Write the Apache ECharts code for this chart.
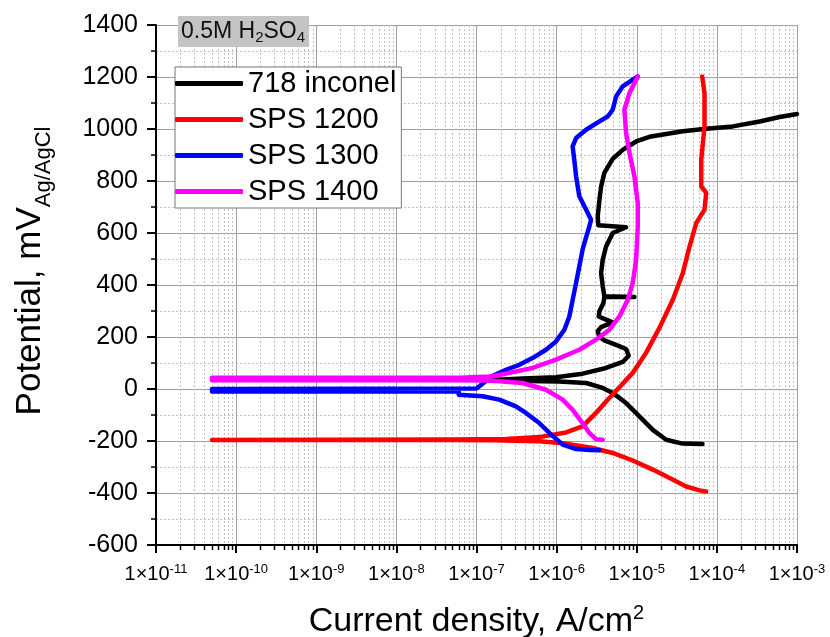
<!DOCTYPE html>
<html>
<head>
<meta charset="utf-8">
<script src="https://cdn.jsdelivr.net/npm/echarts@6/dist/echarts.min.js"></script>
<style>
  html, body { margin: 0; padding: 0; background: #fff; }
  #chart { width: 830px; height: 637px; }
</style>
</head>
<body>
<div id="chart"></div>
<script>
  // 数据: [电流密度 A/cm2, 电位 mV]
  var inconel718 = [
    [6.6e-5, -212], [3.72e-5, -210], [2.33e-5, -195], [1.585e-5, -157], [1.08e-5, -105],
    [7.36e-6, -54], [5.01e-6, -15], [3.76e-6, 4], [2.33e-6, 23], [1.07e-6, 29],
    [4.0e-7, 31], [1.35e-7, 34], [3.76e-7, 40], [9.82e-7, 45], [2.11e-6, 59],
    [4.14e-6, 81], [6.68e-6, 104], [7.94e-6, 128], [7.36e-6, 154], [5.52e-6, 170],
    [3.94e-6, 187], [3.42e-6, 200], [3.26e-6, 222], [3.59e-6, 238], [5.01e-6, 256],
    [4.14e-6, 267], [3.35e-6, 279], [3.42e-6, 299], [3.84e-6, 331], [3.94e-6, 354],
    [9.35e-6, 354], [3.94e-6, 357], [3.76e-6, 395], [3.59e-6, 446], [3.76e-6, 497],
    [4.14e-6, 548], [5.01e-6, 600], [7.36e-6, 622], [3.31e-6, 630], [3.26e-6, 664],
    [3.42e-6, 728], [3.59e-6, 779], [3.94e-6, 831], [5.01e-6, 885], [6.68e-6, 920],
    [9.82e-6, 952], [1.44e-5, 970], [3.76e-5, 991], [7.36e-5, 1001], [1.585e-4, 1010],
    [3.42e-4, 1029], [6.08e-4, 1046], [1.0e-3, 1058]
  ];
  var sps1200 = [
    [7.36e-5, -394], [6.08e-5, -390], [4.14e-5, -375], [2.33e-5, -336], [1.585e-5, -310],
    [8.91e-6, -275], [5.01e-6, -246], [2.82e-6, -227], [1.31e-6, -210], [6.08e-7, -201],
    [1.585e-7, -197], [5.0e-8, -196], [5.0e-11, -196], [5.0e-11, -194], [5.0e-8, -194],
    [2.33e-7, -192], [6.08e-7, -185], [1.31e-6, -167], [2.11e-6, -144], [3.10e-6, -92],
    [4.14e-6, -48], [6.08e-6, 7], [8.91e-6, 62], [1.08e-5, 100], [1.31e-5, 140],
    [1.92e-5, 235], [2.82e-5, 343], [3.76e-5, 446], [4.56e-5, 548], [5.52e-5, 638],
    [7.01e-5, 690], [7.36e-5, 754], [6.38e-5, 779], [6.38e-5, 882], [7.01e-5, 1010],
    [7.01e-5, 1138], [6.56e-5, 1202]
  ];
  var sps1300 = [
    [3.42e-6, -236], [2.6e-6, -235], [1.75e-6, -231], [1.19e-6, -214], [8.11e-7, -169],
    [6.08e-7, -131], [4.14e-7, -92], [3.10e-7, -67], [1.92e-7, -41], [1.19e-7, -28],
    [6.0e-8, -22], [6.0e-8, -10], [5.0e-11, -10], [5.0e-11, 0], [1.0e-7, 2],
    [1.3e-7, 30], [1.7e-7, 55], [2.33e-7, 74], [3.42e-7, 93], [5.01e-7, 119],
    [7.36e-7, 151], [9.82e-7, 183], [1.25e-6, 228], [1.44e-6, 279], [1.585e-6, 343],
    [1.75e-6, 408], [1.92e-6, 472], [2.11e-6, 536], [2.22e-6, 561], [2.56e-6, 625],
    [2.69e-6, 651], [2.33e-6, 690], [1.92e-6, 741], [1.75e-6, 818], [1.66e-6, 882],
    [1.585e-6, 933], [1.75e-6, 965], [2.33e-6, 997], [3.42e-6, 1029], [4.34e-6, 1048],
    [5.01e-6, 1074], [5.52e-6, 1125], [6.68e-6, 1164], [1.03e-5, 1202]
  ];
  var sps1400 = [
    [3.76e-6, -195], [3.10e-6, -193], [2.56e-6, -169], [2.11e-6, -131], [1.585e-6, -80],
    [1.19e-6, -41], [7.36e-7, -3], [3.76e-7, 23], [1.45e-7, 33], [5.0e-8, 34],
    [5.0e-11, 34], [5.0e-11, 43], [6.3e-8, 43], [1.44e-7, 48], [2.33e-7, 59],
    [5.01e-7, 81], [9.82e-7, 113], [1.92e-6, 151], [3.10e-6, 190], [4.56e-6, 228],
    [6.08e-6, 279], [7.73e-6, 343], [8.91e-6, 408], [9.82e-6, 497], [1.03e-5, 625],
    [1.03e-5, 715], [9.35e-6, 818], [8.11e-6, 908], [7.36e-6, 985], [7.01e-6, 1074],
    [8.11e-6, 1138], [1.03e-5, 1202]
  ];

  var seriesNames = ["718 inconel", "SPS 1200", "SPS 1300", "SPS 1400"];
  var seriesColors = ["#000000", "#ff0000", "#0000ff", "#ff00ff"];
  var seriesData = [inconel718, sps1200, sps1300, sps1400];

  // 对数轴次刻度 (2..9 × 10^n)
  var decades = [1e-11, 1e-10, 1e-9, 1e-8, 1e-7, 1e-6, 1e-5, 1e-4];
  var minorSteps = [2, 3, 4, 5, 6, 7, 8, 9];
  var minorTicks = [];
  decades.forEach(function (d) {
    minorSteps.forEach(function (m) {
      minorTicks.push([m * d, -600]);
    });
  });

  var FONT = "Liberation Sans";
  var chart = echarts.init(document.getElementById("chart"));

  var series = [];
  series.push({
    name: "minor",
    type: "custom",
    silent: true,
    clip: false,
    z: 1,
    data: minorTicks,
    renderItem: function (params, api) {
      var v = api.value(0);
      var top = api.coord([v, 1400]);
      var bot = api.coord([v, -600]);
      var x = Math.round(top[0]) + 0.5;
      return {
        type: "group",
        children: [
          {
            type: "line",
            shape: { x1: x, y1: top[1], x2: x, y2: bot[1] },
            style: { stroke: "#c2c2c2", lineWidth: 1, lineDash: [2, 2] }
          },
          {
            type: "line",
            shape: { x1: x, y1: bot[1], x2: x, y2: bot[1] + 5 },
            style: { stroke: "#000", lineWidth: 1.5 }
          }
        ]
      };
    }
  });
  for (var i = 0; i < seriesNames.length; i++) {
    series.push({
      name: seriesNames[i],
      type: "line",
      data: seriesData[i],
      showSymbol: false,
      symbol: "none",
      z: 3 + i,
      color: seriesColors[i],
      lineStyle: { width: 4.5, color: seriesColors[i], cap: "round", join: "round" }
    });
  }

  var option = {
    animation: false,
    backgroundColor: "#fff",
    textStyle: { fontFamily: FONT },
    title: {
      text: "{a|0.5M H}{s|2}{a|SO}{s|4}",
      left: 178,
      top: 14,
      padding: [4, 4, 2, 3],
      backgroundColor: "#c4c4c4",
      textStyle: {
        fontWeight: "normal",
        rich: {
          a: { fontFamily: FONT, fontSize: 23, fontWeight: "normal", lineHeight: 27, color: "#111" },
          s: { fontFamily: FONT, fontSize: 15, fontWeight: "normal", lineHeight: 15, verticalAlign: "bottom", color: "#111" }
        }
      }
    },
    legend: {
      data: seriesNames,
      orient: "vertical",
      left: 175,
      top: 67,
      padding: [2, 5, 2, 0],
      itemGap: 7,
      itemWidth: 68,
      itemHeight: 5,
      icon: "roundRect",
      backgroundColor: "#fff",
      borderColor: "#777",
      borderWidth: 1,
      textStyle: { fontFamily: FONT, fontSize: 29, color: "#000" }
    },
    grid: {
      left: 156, top: 25, width: 641, height: 520,
      containLabel: false,
      outerBoundsMode: "none"
    },
    xAxis: {
      type: "log",
      logBase: 10,
      min: 1e-11,
      max: 1e-3,
      name: "{n|Current density, A/cm}{p|2}",
      nameLocation: "middle",
      nameGap: 58,
      nameTextStyle: {
        rich: {
          n: { fontFamily: FONT, fontSize: 34, lineHeight: 38, color: "#000" },
          p: { fontFamily: FONT, fontSize: 20, lineHeight: 20, verticalAlign: "top", color: "#000" }
        }
      },
      axisLine: { onZero: false, lineStyle: { color: "#000", width: 2 } },
      axisTick: { length: 8, lineStyle: { color: "#000", width: 2 } },
      axisLabel: {
        margin: 18,
        formatter: function (value) {
          var e = Math.round(Math.log10(value));
          return "{b|1×10}{s|" + e + "}";
        },
        rich: {
          b: { fontFamily: FONT, fontSize: 20, lineHeight: 22, color: "#000" },
          s: { fontFamily: FONT, fontSize: 13, lineHeight: 13, verticalAlign: "top", color: "#000" }
        }
      },
      splitLine: { show: true, lineStyle: { color: "#a0a0a0", width: 1 } }
    },
    yAxis: {
      type: "value",
      min: -600,
      max: 1400,
      interval: 200,
      name: "{n|Potential, mV}{s|Ag/AgCl}",
      nameLocation: "middle",
      nameRotate: 90,
      nameGap: 101,
      nameTextStyle: {
        padding: [0, 0, 0, 28],
        rich: {
          n: { fontFamily: FONT, fontSize: 35, lineHeight: 50, color: "#000" },
          s: { fontFamily: FONT, fontSize: 22, lineHeight: 22, verticalAlign: "bottom", color: "#000" }
        }
      },
      axisLine: { show: true, onZero: false, lineStyle: { color: "#000", width: 2 } },
      axisTick: { show: true, length: 9, lineStyle: { color: "#000", width: 2 } },
      minorTick: { show: true, splitNumber: 2, length: 5, lineStyle: { color: "#000", width: 1.5 } },
      axisLabel: {
        fontFamily: FONT,
        fontSize: 25,
        color: "#000",
        margin: 18,
        formatter: function (v) { return String(v); }
      },
      splitLine: { show: true, lineStyle: { color: "#a0a0a0", width: 1 } },
      minorSplitLine: { show: true, lineStyle: { color: "#c2c2c2", width: 1, type: [2, 2] } }
    },
    series: series
  };

  chart.setOption(option);
</script>
</body>
</html>
